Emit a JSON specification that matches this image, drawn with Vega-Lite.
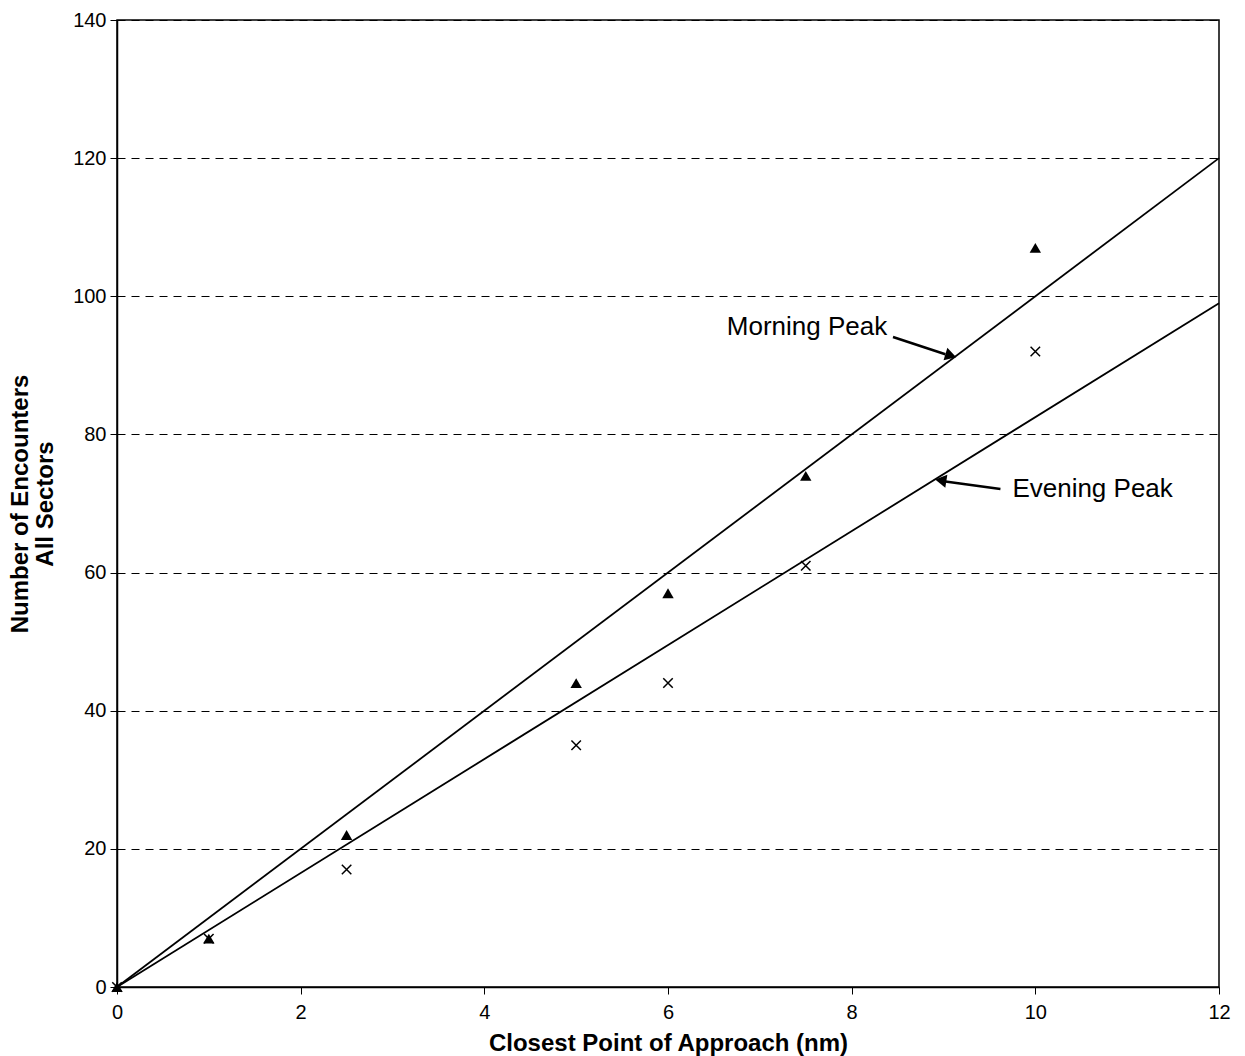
{
  "$schema": "https://vega.github.io/schema/vega-lite/v6.json",
  "width": 1102,
  "height": 967,
  "autosize": {"type": "none"},
  "padding": {"left": 117, "top": 20, "right": 26, "bottom": 69},
  "background": "white",
  "config": {
    "view": {"stroke": "black", "strokeWidth": 1.5},
    "font": "Liberation Sans"
  },
  "datasets": {
    "points": [
      {"cpa": 0, "encounters": 0, "period": "Morning"},
      {"cpa": 1, "encounters": 7, "period": "Morning"},
      {"cpa": 2.5, "encounters": 22, "period": "Morning"},
      {"cpa": 5, "encounters": 44, "period": "Morning"},
      {"cpa": 6, "encounters": 57, "period": "Morning"},
      {"cpa": 7.5, "encounters": 74, "period": "Morning"},
      {"cpa": 10, "encounters": 107, "period": "Morning"},
      {"cpa": 0, "encounters": 0, "period": "Evening"},
      {"cpa": 1, "encounters": 7, "period": "Evening"},
      {"cpa": 2.5, "encounters": 17, "period": "Evening"},
      {"cpa": 5, "encounters": 35, "period": "Evening"},
      {"cpa": 6, "encounters": 44, "period": "Evening"},
      {"cpa": 7.5, "encounters": 61, "period": "Evening"},
      {"cpa": 10, "encounters": 92, "period": "Evening"}
    ],
    "fits": [
      {"cpa": 0, "encounters": 0, "period": "Morning"},
      {"cpa": 12, "encounters": 120, "period": "Morning"},
      {"cpa": 0, "encounters": 0, "period": "Evening"},
      {"cpa": 12, "encounters": 99, "period": "Evening"}
    ],
    "notes": [
      {"label": "Morning Peak", "tx": 6.64, "ty": 95.6, "ax": 8.45, "ay": 94.1, "ax2": 9.02, "ay2": 91.6, "hx": 9.08, "hy": 91.4, "shape": "triangle-right", "angle": 17},
      {"label": "Evening Peak", "tx": 9.75, "ty": 72.1, "ax": 9.62, "ay": 72.1, "ax2": 9.02, "ay2": 73.2, "hx": 8.97, "hy": 73.35, "shape": "triangle-left", "angle": 9}
    ]
  },
  "layer": [
    {
      "data": {"name": "fits"},
      "mark": {"type": "line", "color": "black", "strokeWidth": 1.8},
      "encoding": {
        "x": {
          "field": "cpa", "type": "quantitative",
          "scale": {"domain": [0, 12], "nice": false, "zero": false},
          "axis": {
            "title": "Closest Point of Approach (nm)",
            "titleFontSize": 24, "titleFontWeight": "bold", "titleColor": "black",
            "labelFontSize": 20, "labelColor": "black", "format": "d", "labelFlush": false,
            "values": [0, 2, 4, 6, 8, 10, 12],
            "grid": false, "domainColor": "black", "domainWidth": 1.5,
            "tickColor": "black", "tickSize": 7, "labelPadding": 8, "titlePadding": 9
          }
        },
        "y": {
          "field": "encounters", "type": "quantitative",
          "scale": {"domain": [0, 140], "nice": false},
          "axis": {
            "title": ["Number of Encounters", "All Sectors"],
            "titleFontSize": 24, "titleFontWeight": "bold", "titleColor": "black",
            "titleLineHeight": 25,
            "labelFontSize": 20, "labelColor": "black", "format": "d",
            "values": [0, 20, 40, 60, 80, 100, 120, 140],
            "grid": true, "gridColor": "black", "gridDash": [8, 6], "gridWidth": 1,
            "domainColor": "black", "domainWidth": 1.5,
            "tickColor": "black", "tickSize": 7, "labelPadding": 4, "titlePadding": 15
          }
        },
        "detail": {"field": "period"}
      }
    },
    {
      "data": {"name": "points"},
      "transform": [{"filter": "datum.period === 'Morning'"}],
      "mark": {"type": "point", "shape": "triangle-up", "filled": true, "color": "black", "size": 130, "opacity": 1},
      "encoding": {
        "x": {"field": "cpa", "type": "quantitative"},
        "y": {"field": "encounters", "type": "quantitative"}
      }
    },
    {
      "data": {"name": "points"},
      "transform": [{"filter": "datum.period === 'Evening'"}],
      "mark": {"type": "point", "shape": "M-1,-1L1,1M-1,1L1,-1", "filled": false, "color": "black", "strokeWidth": 1.5, "size": 90, "opacity": 1},
      "encoding": {
        "x": {"field": "cpa", "type": "quantitative"},
        "y": {"field": "encounters", "type": "quantitative"}
      }
    },
    {
      "data": {"name": "notes"},
      "mark": {"type": "rule", "color": "black", "strokeWidth": 2.5},
      "encoding": {
        "x": {"field": "ax", "type": "quantitative"},
        "y": {"field": "ay", "type": "quantitative"},
        "x2": {"field": "ax2"},
        "y2": {"field": "ay2"}
      }
    },
    {
      "data": {"name": "notes"},
      "mark": {"type": "point", "filled": true, "color": "black", "size": 170, "opacity": 1},
      "encoding": {
        "x": {"field": "hx", "type": "quantitative"},
        "y": {"field": "hy", "type": "quantitative"},
        "shape": {"field": "shape", "type": "nominal", "scale": null},
        "angle": {"field": "angle", "type": "quantitative", "scale": null}
      }
    },
    {
      "data": {"name": "notes"},
      "mark": {"type": "text", "align": "left", "baseline": "middle", "fontSize": 26, "color": "black"},
      "encoding": {
        "x": {"field": "tx", "type": "quantitative"},
        "y": {"field": "ty", "type": "quantitative"},
        "text": {"field": "label"}
      }
    }
  ]
}
